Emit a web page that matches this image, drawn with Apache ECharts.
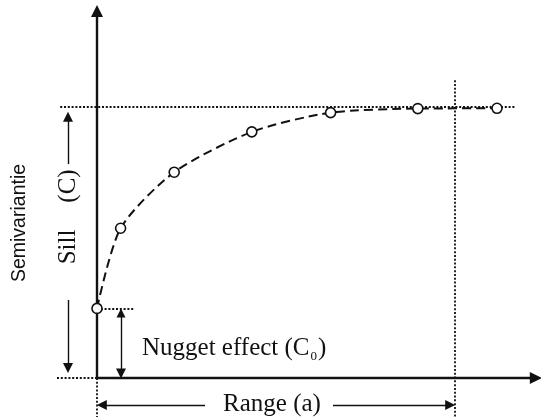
<!DOCTYPE html>
<html>
<head>
<meta charset="utf-8">
<script src="https://cdn.jsdelivr.net/npm/echarts@6/dist/echarts.min.js"></script>
<style>html,body{margin:0;padding:0;background:#fff;}#c{width:541px;height:417px;}</style>
</head>
<body>
<div id="c"></div>
<script>
// Semivariogram sample points (lag distance, semivariance)
var lagValues = [0, 0.59, 1.93, 3.87, 5.84, 8.02, 10.0];
var semiValues = [2.57, 5.53, 7.60, 9.09, 9.80, 9.95, 9.96];
var nugget = 2.57;
var sill = 10.0;
var range = 8.95;

var ink = '#111';
var chart = echarts.init(document.getElementById('c'));

function seg(a, b) { return { coords: [a, b] }; }

var points = lagValues.map(function (x, i) { return [x, semiValues[i]]; });

var option = {
  animation: false,
  backgroundColor: '#fff',
  grid: { left: 0, right: 0, top: 0, bottom: 0 },
  xAxis: { type: 'value', min: -2.425, max: 11.1, show: false },
  yAxis: { type: 'value', min: -1.44, max: 13.96, show: false },
  series: [
    // axes with arrow heads
    {
      type: 'lines', coordinateSystem: 'cartesian2d', silent: true, z: 3,
      symbol: ['none', 'triangle'], symbolSize: [11, 12],
      lineStyle: { color: ink, width: 2.4, opacity: 1, curveness: 0 },
      data: [seg([0, 0], [0, 13.55]), seg([0, 0], [10.97, 0])]
    },
    // dotted reference lines
    {
      type: 'lines', coordinateSystem: 'cartesian2d', silent: true, z: 2,
      symbol: ['none', 'none'],
      lineStyle: { color: ink, width: 1.8, type: [2, 1.8], opacity: 1 },
      data: [
        seg([-0.92, sill], [10.45, sill]),
        seg([range, 11.0], [range, -1.44]),
        seg([0, nugget], [0.95, nugget]),
        seg([-1.0, 0], [0, 0]),
        seg([0, 0], [0, -1.44])
      ]
    },
    // thin annotation arrows (single head)
    {
      type: 'lines', coordinateSystem: 'cartesian2d', silent: true, z: 3,
      symbol: ['none', 'triangle'], symbolSize: [9, 10],
      lineStyle: { color: ink, width: 1.4, opacity: 1 },
      data: [
        seg([-0.725, 7.9], [-0.725, 9.65]),
        seg([-0.725, 2.88], [-0.725, 0.37]),
        seg([2.7, -1.0], [0.12, -1.0]),
        seg([5.9, -1.0], [8.83, -1.0])
      ]
    },
    // nugget double arrow
    {
      type: 'lines', coordinateSystem: 'cartesian2d', silent: true, z: 3,
      symbol: ['triangle', 'triangle'], symbolSize: [9, 10],
      lineStyle: { color: ink, width: 1.4, opacity: 1 },
      data: [seg([0.6, 2.4], [0.6, 0.17])]
    },
    // semivariogram
    {
      type: 'line', data: points, smooth: 0.25, z: 5,
      symbol: 'circle', symbolSize: 10,
      lineStyle: { color: ink, width: 2, type: [9, 5] },
      itemStyle: { color: '#fff', borderColor: ink, borderWidth: 1.6 }
    }
  ],
  graphic: [
    { type: 'text', x: 19.5, y: 223, rotation: Math.PI / 2, style: { text: 'Semivariantie', font: '19.5px "Liberation Sans", Arial, sans-serif', fill: '#111', align: 'center', verticalAlign: 'middle' } },
    { type: 'text', x: 68, y: 247, rotation: Math.PI / 2, style: { text: 'Sill', font: '25px "Liberation Serif", "Times New Roman", serif', fill: '#111', align: 'center', verticalAlign: 'middle' } },
    { type: 'text', x: 68, y: 186, rotation: Math.PI / 2, style: { text: '(C)', font: '25px "Liberation Serif", "Times New Roman", serif', fill: '#111', align: 'center', verticalAlign: 'middle' } },
    { type: 'text', x: 142, y: 348, style: {
      text: '{a|Nugget effect (C}{s|0}{a|)}',
      fill: '#111', align: 'left', verticalAlign: 'middle',
      rich: {
        a: { font: '25px "Liberation Serif", "Times New Roman", serif', fill: '#111', lineHeight: 28 },
        s: { font: '13px "Liberation Serif", "Times New Roman", serif', fill: '#111', lineHeight: 13, padding: [16, 1, 0, 1], verticalAlign: 'top' }
      }
    } },
    { type: 'text', x: 272, y: 404, style: { text: 'Range (a)', font: '25px "Liberation Serif", "Times New Roman", serif', fill: '#111', align: 'center', verticalAlign: 'middle' } }
  ]
};
chart.setOption(option);
</script>
</body>
</html>
